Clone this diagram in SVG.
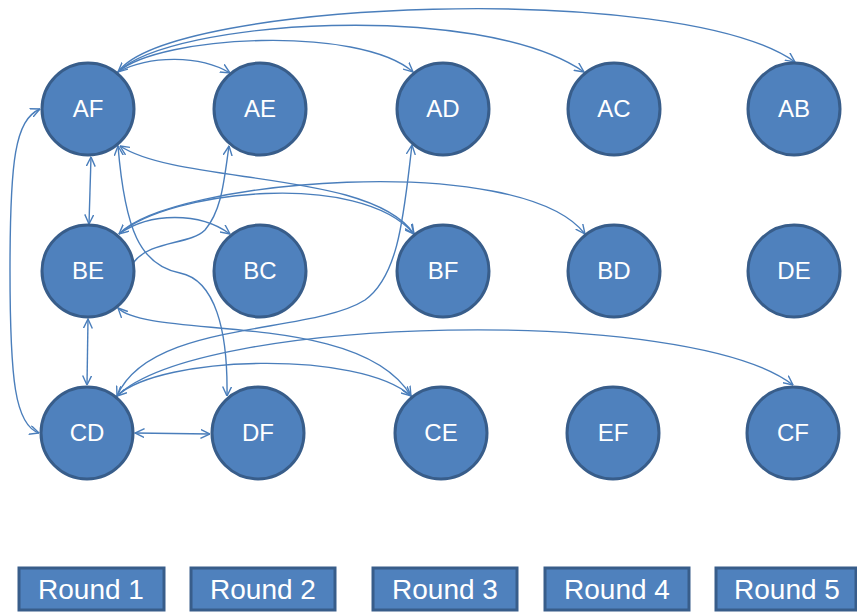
<svg xmlns="http://www.w3.org/2000/svg" width="857" height="612" viewBox="0 0 857 612">
<style>
.node circle{fill:#4f81bd;stroke:#385d8a;stroke-width:3}
.node text{fill:#ffffff;font-family:"Liberation Sans",Arial,sans-serif;font-size:24px;text-anchor:middle}
.rnd rect{fill:#4f81bd;stroke:#385d8a;stroke-width:3}
.rnd text{fill:#ffffff;font-family:"Liberation Sans",Arial,sans-serif;font-size:28px;text-anchor:middle}
#edges path{fill:none;stroke:#4a7ebb;stroke-width:1.4}
.b{marker-start:url(#ah);marker-end:url(#ah)}
.e{marker-end:url(#ah)}
</style>
<defs>
<marker id="ah" viewBox="0 0 10 10" refX="9.5" refY="5" markerWidth="10" markerHeight="10" markerUnits="userSpaceOnUse" orient="auto-start-reverse">
<path d="M0,0.5 L9.5,5 L0,9.5" fill="none" stroke="#4a7ebb" stroke-width="1.4"/>
</marker>
</defs>
<rect width="857" height="612" fill="#ffffff"/>
<g id="edges">
<path class="e" d="M118,72 C150,55 200,55 230,73"/>
<path class="b" d="M118,72 C160,35 360,25 413,72"/>
<path class="e" d="M118,72 C170,20 480,0 584,72"/>
<path class="e" d="M118,72 C170,0 680,-20 795,62"/>
<path class="b" d="M91,157 L89,224"/>
<path class="b" d="M118,146 C125,230 140,265 180,273 C215,280 228,330 227,396"/>
<path class="b" d="M120,146 C180,185 370,170 414,234"/>
<path class="e" d="M119,234 C150,212 200,212 230,234"/>
<path class="b" d="M119,234 C170,190 360,170 414,234"/>
<path class="e" d="M119,234 C170,180 520,150 585,234"/>
<path class="e" d="M133,263 C150,240 190,245 205,230 C222,210 224,180 229,146"/>
<path class="b" d="M118,308 C150,340 360,310 411,396"/>
<path class="b" d="M88,319 L87,385"/>
<path class="b" d="M135,433 L210,434"/>
<path class="b" d="M40,109 C15,120 10,160 10,270 C10,380 15,425 39,433"/>
<path class="b" d="M117,396 C160,355 360,350 411,396"/>
<path class="e" d="M117,396 C200,315 690,305 793,385"/>
<path class="b" d="M117,396 C150,320 310,335 365,300 C400,275 404,210 412,145"/>
</g>
<g id="AF" class="node"><circle cx="88" cy="109" r="46"/><text x="88" y="117">AF</text></g>
<g id="AE" class="node"><circle cx="260" cy="109" r="46"/><text x="260" y="117">AE</text></g>
<g id="AD" class="node"><circle cx="443" cy="109" r="46"/><text x="443" y="117">AD</text></g>
<g id="AC" class="node"><circle cx="614" cy="109" r="46"/><text x="614" y="117">AC</text></g>
<g id="AB" class="node"><circle cx="794" cy="109" r="46"/><text x="794" y="117">AB</text></g>
<g id="BE" class="node"><circle cx="88" cy="271" r="46"/><text x="88" y="279">BE</text></g>
<g id="BC" class="node"><circle cx="260" cy="271" r="46"/><text x="260" y="279">BC</text></g>
<g id="BF" class="node"><circle cx="443" cy="271" r="46"/><text x="443" y="279">BF</text></g>
<g id="BD" class="node"><circle cx="614" cy="271" r="46"/><text x="614" y="279">BD</text></g>
<g id="DE" class="node"><circle cx="794" cy="271" r="46"/><text x="794" y="279">DE</text></g>
<g id="CD" class="node"><circle cx="87" cy="433" r="46"/><text x="87" y="441">CD</text></g>
<g id="DF" class="node"><circle cx="258" cy="433" r="46"/><text x="258" y="441">DF</text></g>
<g id="CE" class="node"><circle cx="441" cy="433" r="46"/><text x="441" y="441">CE</text></g>
<g id="EF" class="node"><circle cx="613" cy="433" r="46"/><text x="613" y="441">EF</text></g>
<g id="CF" class="node"><circle cx="793" cy="433" r="46"/><text x="793" y="441">CF</text></g>
<g id="round1" class="rnd"><rect x="19" y="568" width="145" height="42"/><text x="91" y="599">Round 1</text></g>
<g id="round2" class="rnd"><rect x="191" y="568" width="144" height="42"/><text x="263" y="599">Round 2</text></g>
<g id="round3" class="rnd"><rect x="373" y="568" width="144" height="42"/><text x="445" y="599">Round 3</text></g>
<g id="round4" class="rnd"><rect x="545" y="568" width="144" height="42"/><text x="617" y="599">Round 4</text></g>
<g id="round5" class="rnd"><rect x="716" y="568" width="140" height="42"/><text x="787" y="599">Round 5</text></g>
</svg>
